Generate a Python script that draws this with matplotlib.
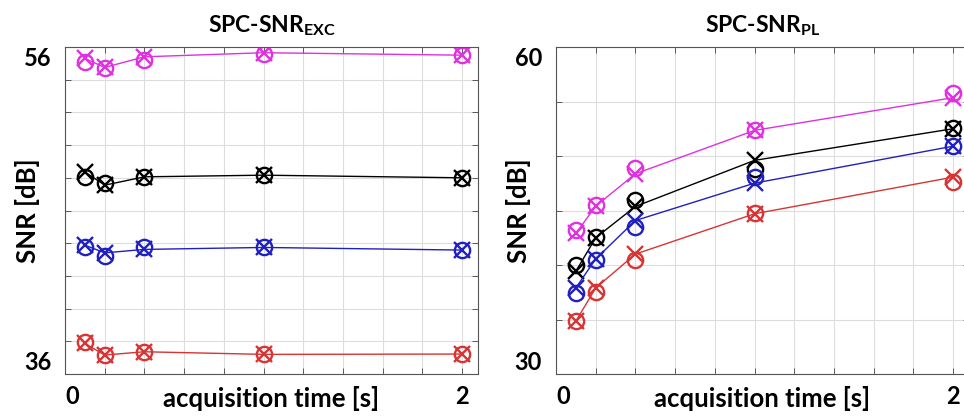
import matplotlib
matplotlib.use("Agg")
import matplotlib.pyplot as plt

plt.rcParams['font.family'] = ['Lato', 'DejaVu Sans']
plt.rcParams['font.weight'] = 'bold'
plt.rcParams['mathtext.fontset'] = 'custom'
plt.rcParams['mathtext.rm'] = 'Lato:bold'
plt.rcParams['mathtext.bf'] = 'Lato:bold'

# acquisition times [s]
t = [0.1, 0.2, 0.4, 1.0, 2.0]

# SPC-SNR_EXC: circle series and cross series per colour
exc_mag_o = [55.08, 54.7, 55.2, 55.6, 55.5]
exc_mag_x = [55.3, 54.75, 55.4, 55.65, 55.5]
exc_blk_o = [48.02, 47.69, 48.06, 48.16, 48.0]
exc_blk_x = [48.36, 47.55, 48.06, 48.16, 48.0]
exc_blu_o = [43.78, 43.21, 43.74, 43.74, 43.58]
exc_blu_x = [43.88, 43.41, 43.62, 43.74, 43.58]
exc_red_o = [37.98, 37.16, 37.36, 37.2, 37.22]
exc_red_x = [37.87, 37.16, 37.36, 37.2, 37.22]

# SPC-SNR_PL
pl_mag_o = [43.17, 45.55, 48.92, 52.41, 55.78]
pl_mag_x = [42.9, 45.4, 48.37, 52.35, 55.35]
pl_blk_o = [40.0, 42.55, 45.98, 48.83, 52.59]
pl_blk_x = [39.43, 42.5, 45.37, 49.6, 52.5]
pl_blu_o = [37.44, 40.47, 43.53, 48.06, 50.9]
pl_blu_x = [37.9, 40.56, 44.08, 47.51, 50.9]
pl_red_o = [34.84, 37.5, 40.47, 44.78, 47.6]
pl_red_x = [34.84, 37.9, 41.0, 44.7, 48.06]

colors = ['#e030e0', 'black', '#2020c0', '#d83434']

panels = [
    (r'SPC-SNR$_{\mathrm{EXC}}$', 36, 56, 2,
     [(exc_mag_o, exc_mag_x), (exc_blk_o, exc_blk_x), (exc_blu_o, exc_blu_x), (exc_red_o, exc_red_x)]),
    (r'SPC-SNR$_{\mathrm{PL}}$', 30, 60, 5,
     [(pl_mag_o, pl_mag_x), (pl_blk_o, pl_blk_x), (pl_blu_o, pl_blu_x), (pl_red_o, pl_red_x)]),
]

fig = plt.figure(figsize=(9.64, 4.17), dpi=100)
lefts = [65 / 964, 556 / 964]
width = 413 / 964

for left, (title, ylo, yhi, ystep, series) in zip(lefts, panels):
    ax = fig.add_axes([left, 1 - 374 / 417, width, 327 / 417])
    for c, (yo, yx) in zip(colors, series):
        ax.plot(t, yx, color=c, lw=1.0, marker='x', ms=11, mew=1.7)
        ax.plot(t, yo, linestyle='none', color=c, marker='o', ms=11, mew=1.7, mfc='none')
    ax.set_xlim(0, 2.08)
    ax.set_ylim(ylo, yhi)
    xt = [i * 0.2 for i in range(11)]
    ax.set_xticks(xt)
    ax.set_xticklabels(['0'] + [''] * 9 + ['2'])
    yt = list(range(ylo, yhi + 1, ystep))
    ax.set_yticks(yt)
    ax.set_yticklabels([str(ylo)] + [''] * (len(yt) - 2) + [str(yhi)])
    ax.tick_params(direction='in', top=True, right=True, length=4, width=0.6,
                   colors='#444444', labelcolor='black', labelsize=17)
    ax.tick_params(axis='y', pad=10)
    ax.tick_params(axis='x', pad=8)
    ylabs = ax.get_yticklabels()
    ylabs[0].set_va('bottom')
    ylabs[-1].set_va('top')
    ax.get_xticklabels()[0].set_ha('left')
    ax.grid(True, color='#dddddd', lw=0.8)
    for s in ax.spines.values():
        s.set_color('#555555')
        s.set_linewidth(0.8)
    ax.set_title(title, fontsize=16.5, fontweight='bold', pad=11)
    ax.set_xlabel('acquisition time [s]', fontsize=18.5, fontweight='bold', labelpad=-16)
    ax.set_ylabel('SNR [dB]', fontsize=18.5, fontweight='bold', labelpad=-12)

fig.savefig('out.png', dpi=100)
